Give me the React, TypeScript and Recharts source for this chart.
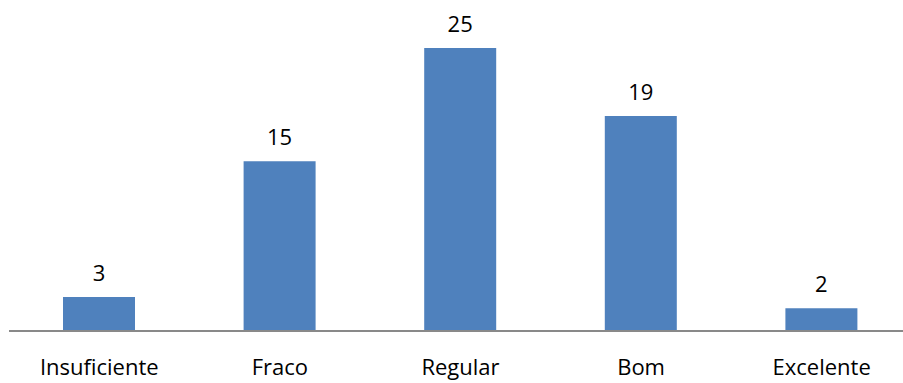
import React from "react";
import { BarChart, Bar, XAxis, YAxis, LabelList } from "recharts";

const categories = ["Insuficiente", "Fraco", "Regular", "Bom", "Excelente"];
const values = [3, 15, 25, 19, 2];

const data = categories.map((c, i) => ({ name: c, value: values[i] }));

const FONT = "'Open Sans', sans-serif";

export default function App() {
  return (
    <div style={{ position: "absolute", left: 0, top: 0, width: 903, height: 383, overflow: "hidden", background: "#fff" }}>
      <BarChart
        width={912}
        height={383}
        data={data}
        margin={{ top: 48, right: 0, bottom: 0, left: 9 }}
        barSize={72}
      >
        <YAxis hide domain={[0, 25]} />
        <XAxis
          dataKey="name"
          height={52}
          axisLine={{ stroke: "#898989", strokeWidth: 2 }}
          tickLine={false}
          interval={0}
          tick={{ fill: "#000", fontSize: 22, fontFamily: FONT, dy: 20 }}
        />
        <Bar dataKey="value" fill="#4F81BD" isAnimationActive={false}>
          <LabelList
            dataKey="value"
            position="top"
            offset={16}
            style={{ fill: "#000", fontSize: 22, fontFamily: FONT }}
          />
        </Bar>
      </BarChart>
    </div>
  );
}
